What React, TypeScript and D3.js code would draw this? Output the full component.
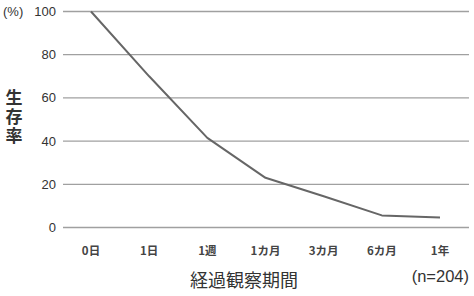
import React from "react";
import * as d3 from "d3";

const categories = ["0日", "1日", "1週", "1カ月", "3カ月", "6カ月", "1年"];
const survival = [100, 70, 41.5, 23, 14.5, 5.6, 4.6];
const yTicks = [0, 20, 40, 60, 80, 100];

const W = 474;
const H = 296;

export default function App() {
  const x = d3.scalePoint<string>().domain(categories).range([91, 440]);
  const y = d3.scaleLinear().domain([0, 100]).range([227.5, 11.5]);
  const line = d3
    .line<number>()
    .x((_, i) => x(categories[i]) as number)
    .y((d) => y(d));
  const font = "'Liberation Sans', Arial, 'Noto Sans CJK JP', sans-serif";
  const cjk = "'Noto Sans CJK JP', sans-serif";
  return (
    <svg
      width={W}
      height={H}
      style={{ position: "absolute", left: 0, top: 0, background: "#fff" }}
    >
      {yTicks.map((t) => (
        <g key={t}>
          <line x1={63} x2={469} y1={y(t)} y2={y(t)} stroke="#a0a0a0" strokeWidth={1.3} />
          <text
            x={56}
            y={y(t)}
            dy="0.35em"
            textAnchor="end"
            fontSize={13}
            fontFamily={font}
            fill="#333"
          >
            {t}
          </text>
        </g>
      ))}
      <text x={3} y={y(100)} dy="0.35em" fontSize={13} fontFamily={font} fill="#333">
        (%)
      </text>
      <text
        x={14}
        y={89}
        fontSize={17}
        fontWeight="bold"
        fontFamily={cjk}
        fill="#333"
        style={{ writingMode: "vertical-rl", letterSpacing: "2px" }}
      >
        生存率
      </text>
      <path d={line(survival) || ""} fill="none" stroke="#666" strokeWidth={2} strokeLinejoin="round" />
      {categories.map((c) => (
        <text
          key={c}
          x={x(c)}
          y={251}
          dy="0.35em"
          textAnchor="middle"
          fontSize={11.5}
          fontWeight="bold"
          fontFamily={cjk}
          fill="#444"
        >
          {c}
        </text>
      ))}
      <text x={190} y={281} dy="0.35em" fontSize={18} fontFamily={cjk} fill="#333">
        経過観察期間
      </text>
      <text x={469} y={276} dy="0.35em" textAnchor="end" fontSize={16.5} fontFamily={font} fill="#333">
        (n=204)
      </text>
    </svg>
  );
}
